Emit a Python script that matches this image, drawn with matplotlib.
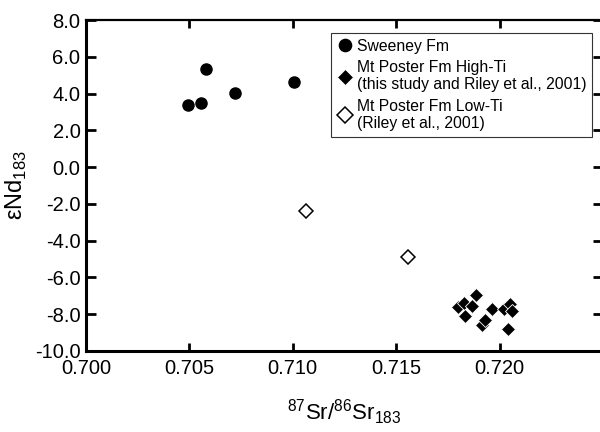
import matplotlib
matplotlib.use("Agg")
import matplotlib.pyplot as plt

# Sweeney Fm
sweeney_sr = [0.70493, 0.70556, 0.70580, 0.70720, 0.71005]
sweeney_nd = [3.38, 3.49, 5.34, 4.02, 4.63]

# Mt Poster Fm High-Ti
high_ti_sr = [0.71799, 0.71828, 0.71834, 0.71866, 0.71887, 0.71914,
              0.71929, 0.71965, 0.72019, 0.72052, 0.72059, 0.72043]
high_ti_nd = [-7.62, -7.37, -8.08, -7.54, -6.95, -8.59,
              -8.31, -7.72, -7.73, -7.44, -7.81, -8.80]

# Mt Poster Fm Low-Ti
low_ti_sr = [0.71063, 0.71556]
low_ti_nd = [-2.39, -4.89]

x_ticks = [0.700, 0.705, 0.710, 0.715, 0.720]
y_ticks = [8.0, 6.0, 4.0, 2.0, 0.0, -2.0, -4.0, -6.0, -8.0, -10.0]

plt.rcParams['font.family'] = ['Liberation Sans', 'DejaVu Sans']
plt.rcParams['mathtext.fontset'] = 'custom'
plt.rcParams['mathtext.rm'] = 'Liberation Sans'

fig = plt.figure(figsize=(6.0, 4.32), dpi=100)
ax = fig.add_axes([0.1433, 0.1875, 0.8617, 0.7662])

ax.plot(sweeney_sr, sweeney_nd, 'o', color='black', markersize=8,
        label='Sweeney Fm')
ax.plot(high_ti_sr, high_ti_nd, 'D', color='black', markeredgecolor='white',
        markeredgewidth=0.6, markersize=7.5,
        label='Mt Poster Fm High-Ti\n(this study and Riley et al., 2001)')
ax.plot(low_ti_sr, low_ti_nd, 'D', markerfacecolor='white',
        markeredgecolor='black', markeredgewidth=1.1, markersize=7,
        label='Mt Poster Fm Low-Ti\n(Riley et al., 2001)')

ax.set_xlim(0.700, 0.725)
ax.set_ylim(-10.0, 8.0)
ax.set_xticks(x_ticks)
ax.set_xticklabels(['%.3f' % v for v in x_ticks])
ax.set_yticks(y_ticks)
ax.set_yticklabels(['%.1f' % v for v in y_ticks])

for s in ax.spines.values():
    s.set_linewidth(2.2)
ax.spines['top'].set_linewidth(1.6)
ax.tick_params(direction='in', length=6, width=2, labelsize=14.5,
               top=True, right=True)
ax.tick_params(axis='x', pad=6)
ax.tick_params(axis='y', length=7, pad=4)

ax.set_xlabel(r'$^{\rm 87}$Sr/$^{\rm 86}$Sr$_{\rm 183}$', fontsize=16, labelpad=14)
ax.set_ylabel(r'εNd$_{\rm 183}$', fontsize=17, labelpad=4)

leg = ax.legend(loc='upper left', bbox_to_anchor=(0.473, 0.96),
                fontsize=11.3, frameon=True, fancybox=False,
                handletextpad=0.15, handlelength=1.2, borderpad=0.35,
                labelspacing=0.4, borderaxespad=0, markerscale=1.1)
leg.get_frame().set_edgecolor('black')
leg.get_frame().set_linewidth(0.8)

fig.savefig('out.png', dpi=100)
